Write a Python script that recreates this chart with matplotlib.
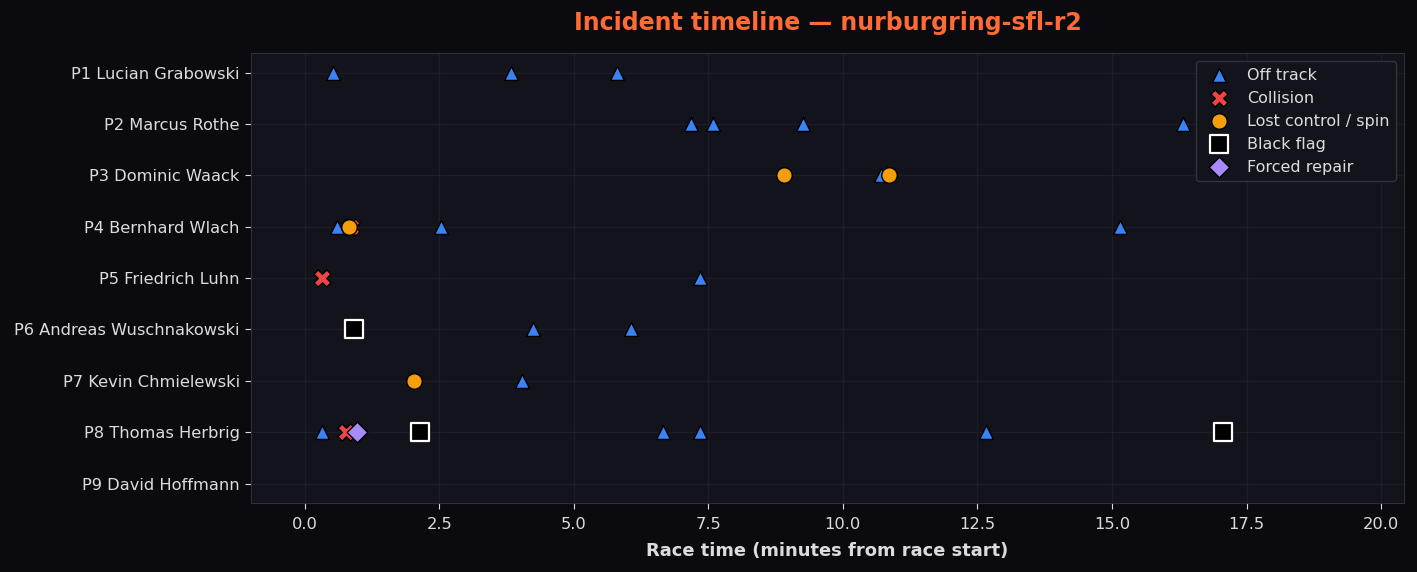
import numpy as np
import matplotlib
matplotlib.use("Agg")
import matplotlib.pyplot as plt

drivers = ["P1 Lucian Grabowski", "P2 Marcus Rothe", "P3 Dominic Waack",
           "P4 Bernhard Wlach", "P5 Friedrich Luhn", "P6 Andreas Wuschnakowski",
           "P7 Kevin Chmielewski", "P8 Thomas Herbrig", "P9 David Hoffmann"]

# (driver index, minute)
off_drv = [0, 0, 0, 1, 1, 1, 1, 2, 3, 3, 3, 4, 5, 5, 6, 7, 7, 7, 7]
off_t = [0.52, 3.83, 5.81, 7.17, 7.58, 9.25, 16.32, 10.70, 0.61, 2.54, 15.15,
         7.35, 4.25, 6.07, 4.03, 0.33, 6.65, 7.35, 12.65]
col_drv = [3, 4, 7]
col_t = [0.87, 0.33, 0.76]
spin_drv = [2, 2, 3, 6]
spin_t = [8.91, 10.86, 0.82, 2.04]
flag_drv = [5, 7, 7]
flag_t = [0.91, 2.15, 17.07]
rep_drv = [7]
rep_t = [0.98]

bg = '#0b0b0f'
axbg = '#12131b'
txt = '#dcdce0'

fig = plt.figure(figsize=(14.17, 5.72), dpi=100, facecolor=bg)
ax = fig.add_axes([0.177, 0.1206, 0.814, 0.7864], facecolor=axbg)

ax.scatter(off_t, off_drv, marker='^', s=100, c='#3b82f6', edgecolors='black', linewidths=1, label='Off track', zorder=3)
ax.scatter(col_t, col_drv, marker='X', s=150, c='#ef4444', edgecolors='black', linewidths=1, label='Collision', zorder=3)
ax.scatter(spin_t, spin_drv, marker='o', s=125, c='#f59e0b', edgecolors='black', linewidths=1, label='Lost control / spin', zorder=3)
ax.scatter(flag_t, flag_drv, marker='s', s=160, c='black', edgecolors='white', linewidths=1.6, label='Black flag', zorder=3)
ax.scatter(rep_t, rep_drv, marker='D', s=110, c='#a78bfa', edgecolors='black', linewidths=1, label='Forced repair', zorder=3)

ax.set_yticks(range(len(drivers)))
ax.set_yticklabels(drivers)
ax.set_ylim(8.38, -0.38)
ax.set_xlim(-1.0, 20.43)
ax.set_xticks(np.arange(0, 20.1, 2.5))

ax.grid(True, color='#262833', linewidth=0.9, alpha=0.5)
ax.set_axisbelow(True)
for sp in ax.spines.values():
    sp.set_color('#2e3039')
ax.tick_params(colors=txt, labelsize=11.7, length=4, pad=4)
ax.tick_params(axis='x', pad=6)

ax.set_xlabel('Race time (minutes from race start)', color=txt, fontsize=12.9, fontweight='bold', labelpad=7)
ax.set_title('Incident timeline — nurburgring-sfl-r2', color='#ff6b35', fontsize=17, fontweight='bold', pad=17)

leg = ax.legend(loc='upper right', facecolor='#12131b', edgecolor='#33353f', fontsize=11.5, framealpha=0.95)
for t in leg.get_texts():
    t.set_color(txt)

fig.savefig('out.png', dpi=100, facecolor=bg)
